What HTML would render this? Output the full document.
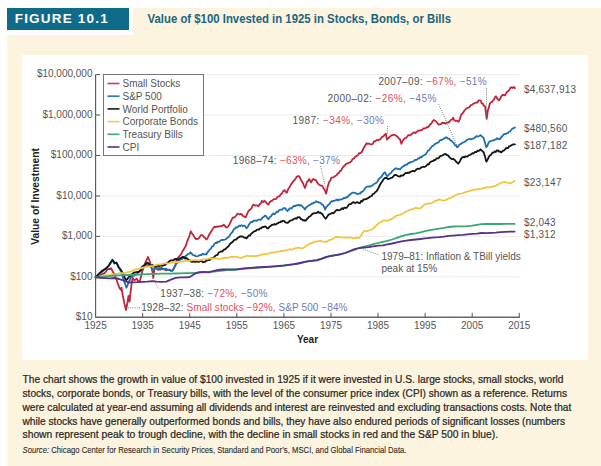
<!DOCTYPE html>
<html><head><meta charset="utf-8"><title>Figure 10.1</title>
<style>
html,body{margin:0;padding:0;background:#fff;}
body{width:601px;height:466px;position:relative;overflow:hidden;}
.bg{position:absolute;background:#fdf4df;}
</style></head><body>
<div class="bg" style="left:7px;top:35px;width:594px;height:431px"></div>
<div class="bg" style="left:133px;top:8px;width:468px;height:27px"></div>
<div style="position:absolute;left:7px;top:7.5px;width:121.5px;height:22.5px;background:#0f6b8a"></div>
<div style="position:absolute;left:21.5px;top:54.5px;width:566px;height:305px;background:#fff"></div>
<svg width="601" height="466" viewBox="0 0 601 466" style="position:absolute;left:0;top:0">
<g stroke="#ebebeb" stroke-width="1"><line x1="96" x2="519.5" y1="276.85" y2="276.85"/><line x1="96" x2="519.5" y1="236.40" y2="236.40"/><line x1="96" x2="519.5" y1="195.95" y2="195.95"/><line x1="96" x2="519.5" y1="155.50" y2="155.50"/><line x1="96" x2="519.5" y1="115.05" y2="115.05"/><line x1="96" x2="519.5" y1="74.60" y2="74.60"/></g>
<g fill="none" stroke-linejoin="round" stroke-linecap="round"><path d="M95.6,276.9 97.1,276.5 98.3,275.6 99.4,275.6 100.6,275.1 101.8,274.2 103.0,273.9 104.3,273.2 105.5,272.3 106.7,270.4 107.8,269.1 109.0,268.8 110.0,269.1 111.0,268.1 112.0,269.8 113.1,272.3 114.2,273.9 115.2,276.5 116.6,280.0 118.0,284.2 119.4,287.7 120.8,289.8 121.5,287.7 122.9,296.0 124.3,303.0 126.0,310.0 127.4,303.0 128.5,296.0 129.6,301.6 130.6,291.9 131.6,283.5 132.7,277.9 133.8,279.8 134.8,280.0 135.9,279.2 136.9,278.6 137.9,281.0 139.0,282.1 140.3,279.3 141.4,275.1 142.4,270.9 143.4,268.4 144.5,265.3 145.6,261.9 146.6,259.8 148.0,257.0 149.7,261.2 150.8,266.0 152.3,270.5 153.3,277.8 154.5,268.0 155.7,268.6 156.8,268.8 157.9,269.8 159.0,269.5 160.0,269.3 161.0,269.5 162.0,268.8 163.0,269.4 164.0,268.7 165.0,269.8 166.0,270.4 167.0,270.2 168.0,270.2 169.0,270.0 170.0,269.8 171.0,270.8 172.2,270.8 173.3,269.5 174.4,267.2 175.5,265.0 176.7,259.5 178.0,257.5 179.0,256.8 180.0,255.4 181.2,254.1 182.3,251.5 183.4,250.1 184.5,247.9 185.7,246.0 186.8,242.5 187.9,239.6 189.0,237.0 190.8,231.3 191.8,233.3 192.8,234.3 193.9,236.1 195.0,238.0 196.2,239.2 197.3,238.8 198.4,238.7 199.5,237.3 200.7,235.4 201.8,235.0 202.9,235.5 204.0,237.3 205.2,237.9 206.3,239.5 207.4,238.5 208.6,235.8 209.7,233.8 210.8,232.0 212.2,229.9 213.7,227.4 214.8,226.9 215.9,227.1 216.9,226.7 218.0,226.4 219.1,226.5 220.2,226.2 221.4,225.8 222.5,225.9 223.7,224.7 224.9,225.9 226.1,227.3 227.3,227.4 228.5,226.0 229.6,224.2 230.8,221.6 231.9,219.2 233.0,217.5 234.1,217.6 235.2,216.7 236.3,215.5 237.4,213.7 238.6,214.0 239.7,214.5 240.8,213.9 242.0,214.6 243.2,216.1 244.4,216.6 245.6,217.4 246.8,214.6 248.1,211.7 249.3,210.1 250.4,209.4 251.6,208.2 252.7,205.2 253.8,204.6 254.9,205.6 256.1,205.3 257.2,205.3 258.4,206.4 259.6,204.2 260.8,203.3 262.0,201.0 263.2,202.0 264.5,200.8 265.7,201.9 267.0,203.5 268.4,204.6 269.8,202.0 271.2,201.0 272.2,200.8 273.2,199.5 274.2,199.2 275.2,199.2 276.3,198.7 277.3,197.1 278.4,196.4 279.6,196.4 280.7,194.2 281.9,193.6 283.2,191.1 284.6,190.1 285.6,191.7 286.7,192.9 288.1,189.3 289.5,187.3 290.7,184.9 291.8,183.4 293.0,181.7 294.4,180.2 295.8,178.3 296.9,176.6 297.9,176.2 298.9,176.1 300.0,177.6 301.1,180.3 302.1,181.7 303.5,184.5 304.9,188.0 305.9,185.7 307.0,181.7 308.1,181.1 309.1,179.0 310.1,180.5 311.1,182.4 312.1,180.6 313.2,179.0 314.6,179.7 316.0,180.3 317.1,182.3 318.1,183.8 319.1,184.7 320.2,185.2 321.2,185.7 322.3,185.9 323.4,187.9 324.4,189.4 326.2,193.6 327.9,185.9 329.3,181.7 330.4,180.4 331.4,177.6 332.6,177.4 333.9,177.1 335.1,176.0 336.3,175.5 337.5,173.7 338.7,173.2 339.9,171.2 341.1,170.7 342.3,168.2 343.5,166.5 344.8,165.6 346.1,163.7 347.4,163.6 348.7,162.8 349.9,162.4 351.2,161.6 352.5,159.1 353.8,158.6 355.1,156.8 356.6,156.1 358.0,154.9 359.3,153.1 360.5,153.2 361.8,152.0 363.2,149.0 364.7,146.2 366.6,143.3 367.8,143.9 369.1,143.5 370.3,144.4 371.5,144.3 372.8,143.8 374.0,141.5 375.3,141.4 376.6,140.0 377.9,140.5 379.2,139.5 380.5,139.4 381.7,137.1 383.0,136.6 384.4,135.1 385.9,133.7 386.9,139.5 388.4,138.2 389.8,136.6 391.1,135.6 392.4,135.1 393.7,134.7 394.9,135.0 396.1,135.7 397.3,136.5 398.6,138.1 400.0,139.3 401.3,143.8 402.5,141.2 403.7,139.3 404.9,138.1 406.1,137.9 407.3,136.5 408.4,135.0 409.6,135.3 410.8,134.9 411.9,133.8 413.0,133.0 414.2,132.4 415.4,133.0 416.5,132.0 417.6,131.1 418.8,130.5 419.9,130.5 421.0,130.1 422.1,130.0 423.3,128.5 424.5,128.4 425.6,128.3 426.8,127.1 428.1,127.1 429.3,125.6 430.4,124.1 431.6,123.5 432.7,120.9 433.8,120.1 435.6,121.0 437.0,122.5 438.4,124.6 439.6,124.3 440.8,124.1 442.0,122.8 443.2,123.0 444.5,122.9 445.7,123.7 446.9,122.4 448.1,122.6 449.3,121.9 450.6,120.0 451.8,119.7 453.1,117.8 454.1,119.9 455.1,120.8 456.3,120.6 457.4,121.1 458.6,121.8 459.9,118.8 461.2,114.7 462.2,113.6 463.3,112.5 464.3,110.6 465.3,109.6 466.4,108.4 467.4,108.0 468.4,107.6 469.4,107.4 470.4,105.6 471.4,105.0 472.4,104.5 473.4,103.8 474.4,103.3 475.5,102.8 476.5,102.4 477.5,102.5 478.6,100.4 479.6,100.4 480.6,100.5 481.7,103.3 482.7,103.5 483.9,105.7 485.1,106.5 486.7,118.8 487.8,110.6 488.8,107.9 489.8,103.5 490.8,102.3 491.9,102.2 492.9,100.4 493.9,99.8 494.9,97.2 495.9,96.3 496.9,98.1 498.0,99.6 499.0,100.4 500.0,99.0 501.0,97.0 502.0,95.3 503.0,94.9 504.1,95.0 505.1,95.3 506.1,93.4 507.2,91.8 508.2,91.2 509.2,90.0 510.2,88.1 511.2,87.1 512.4,88.0 513.7,87.0 514.9,88.2" stroke="#c0253c" stroke-width="1.8"/><path d="M95.6,276.9 97.1,275.8 98.1,275.6 99.2,274.7 100.2,272.5 101.3,271.6 102.4,271.9 103.4,270.5 104.5,269.9 105.6,268.8 106.8,267.2 107.9,266.7 109.0,265.5 110.1,264.0 111.3,262.3 112.4,260.5 113.5,261.5 114.5,263.5 115.5,263.1 116.5,263.0 117.6,265.0 118.7,267.4 120.1,270.0 121.5,272.0 122.9,277.9 124.8,283.0 126.4,287.7 127.5,285.6 128.5,282.1 129.9,280.0 131.3,276.5 132.4,276.3 133.5,276.0 134.6,275.4 135.8,274.6 136.9,274.4 137.9,272.8 138.9,271.9 140.0,271.7 141.0,270.9 142.2,268.9 143.5,267.5 144.5,266.2 145.6,265.8 146.6,264.0 148.5,265.5 149.7,265.4 150.8,265.3 152.5,270.5 153.7,269.8 154.8,268.4 156.0,268.0 157.0,267.5 158.0,268.1 159.0,268.5 160.0,267.8 161.0,268.2 162.0,268.0 163.0,269.1 164.0,268.9 165.0,269.0 166.0,268.7 167.0,269.9 168.0,269.5 169.1,270.1 170.2,270.3 171.4,270.7 172.5,270.3 173.5,268.9 174.5,267.2 175.5,265.0 176.5,263.3 177.5,262.7 178.5,260.5 179.6,260.6 180.8,258.9 181.9,259.2 183.0,258.3 184.1,257.7 185.2,256.3 186.4,255.5 187.5,254.5 188.5,253.8 189.5,253.7 190.5,252.3 191.5,253.3 192.5,254.8 193.5,255.3 194.6,255.3 195.8,256.2 196.9,256.4 198.0,256.0 199.2,255.4 200.3,255.0 201.4,255.0 202.6,253.8 203.8,254.4 205.1,254.2 206.3,254.5 207.5,252.3 208.8,250.8 210.0,249.3 211.1,248.3 212.2,246.3 213.3,246.1 214.4,243.9 215.5,243.0 216.6,243.1 217.7,241.6 218.8,242.0 219.9,241.1 221.0,240.2 222.1,240.0 223.2,239.8 224.4,239.8 225.5,239.3 226.7,238.5 228.0,237.2 229.2,236.6 230.3,234.3 231.4,233.0 232.6,231.8 233.7,229.3 234.8,228.7 235.9,227.2 237.0,227.6 238.1,226.7 239.2,225.6 240.3,226.2 241.5,225.1 242.7,226.0 243.8,225.6 245.2,226.3 246.5,228.3 247.7,227.0 248.8,224.8 249.9,223.2 251.1,222.0 252.2,222.2 253.3,220.7 254.5,220.9 255.6,220.5 256.8,220.9 257.9,219.8 259.1,219.5 260.2,219.8 261.4,219.3 262.5,217.6 263.6,217.0 264.8,215.6 266.0,216.1 267.2,217.8 268.4,219.2 269.6,217.2 270.9,216.4 272.1,214.6 273.3,213.5 274.4,214.3 275.6,213.1 276.7,211.7 277.8,212.0 279.0,210.3 280.1,209.9 281.2,209.6 282.2,209.7 283.2,208.4 284.3,208.1 285.3,208.2 286.4,209.9 287.4,211.0 288.6,209.9 289.7,208.4 290.9,208.2 291.9,208.4 293.0,206.6 294.1,205.9 295.1,206.1 296.3,205.4 297.4,205.4 298.6,204.8 299.8,205.6 300.9,205.1 302.1,206.1 303.5,207.6 304.9,209.6 306.1,207.5 307.2,206.8 308.4,205.5 309.5,205.2 310.7,204.5 311.8,203.4 312.9,203.5 313.9,202.7 314.9,202.4 316.0,201.3 317.2,202.1 318.3,202.2 319.5,202.7 320.7,203.0 321.8,204.3 323.0,204.8 324.1,206.9 325.1,209.6 326.1,207.3 327.2,206.1 328.4,204.7 329.5,203.9 330.7,202.0 331.7,201.1 332.7,201.4 333.8,200.8 334.8,200.6 335.8,200.2 337.0,199.5 338.1,200.5 339.3,199.3 340.4,199.6 341.6,199.3 342.8,198.8 343.9,197.8 345.1,198.2 346.2,197.2 347.4,197.3 348.5,195.7 349.7,194.7 350.8,193.9 352.0,192.9 353.1,192.5 354.3,192.9 355.4,192.9 356.6,193.8 357.7,194.0 358.9,193.5 360.2,193.6 361.5,191.8 362.8,191.5 364.1,189.8 365.3,187.9 366.6,186.7 367.8,186.6 369.1,186.4 370.3,186.5 371.5,185.8 372.7,185.4 373.9,184.0 375.1,183.5 376.3,182.9 377.5,181.5 378.7,179.3 379.9,177.9 381.1,177.1 382.4,175.4 383.7,173.3 385.0,172.3 386.9,176.1 388.2,175.5 389.5,173.8 390.8,173.2 392.0,171.4 393.1,170.4 394.3,169.3 395.5,168.5 396.6,168.3 397.8,169.0 398.9,169.1 400.0,169.4 401.4,167.7 402.8,166.6 403.9,166.1 405.0,164.7 406.1,165.0 407.2,164.4 408.3,163.0 409.4,163.0 410.5,162.2 411.5,161.9 412.6,161.7 413.7,161.2 414.8,160.0 415.9,160.0 417.0,159.6 418.1,158.5 419.2,158.4 420.3,157.1 421.4,157.4 422.5,156.0 423.6,155.5 424.7,154.8 425.8,154.2 426.9,152.4 428.0,150.6 429.1,150.4 430.2,148.4 431.3,147.3 432.4,145.8 433.4,145.9 434.5,144.1 435.6,143.8 436.7,142.8 437.8,142.9 438.9,141.9 440.0,140.2 441.1,140.2 442.2,139.6 443.3,138.9 444.4,138.5 445.5,137.5 446.6,137.4 447.8,138.5 449.1,138.6 450.3,140.2 451.6,140.9 452.8,142.1 454.1,143.3 455.1,145.3 456.1,145.3 457.1,147.3 458.1,146.7 459.2,144.8 460.2,144.3 461.2,143.8 462.2,142.9 463.3,142.4 464.3,142.2 465.3,141.2 466.3,140.6 467.3,139.8 468.4,139.4 469.4,139.0 470.4,139.2 471.4,139.3 472.4,138.6 473.5,138.6 474.5,137.8 475.5,137.1 476.5,136.0 477.5,136.5 478.6,136.3 479.6,135.8 480.6,135.1 481.6,136.1 482.7,137.0 483.7,138.2 485.0,142.7 486.3,147.3 487.6,145.2 488.8,142.2 489.8,141.4 490.9,141.2 491.9,140.7 492.9,140.2 493.9,140.4 494.9,139.7 495.9,139.3 496.9,138.2 497.9,139.0 499.0,138.6 500.0,139.2 501.0,137.4 502.1,136.4 503.1,135.1 504.1,134.2 505.1,134.0 506.1,133.9 507.1,133.1 508.1,133.0 509.1,131.7 510.2,131.3 511.2,130.0 512.4,128.6 513.7,128.1 514.9,127.5" stroke="#1d6fb0" stroke-width="1.8"/><path d="M95.6,276.9 97.1,275.8 98.1,274.5 99.2,273.3 100.2,272.8 101.3,271.5 102.4,270.5 103.4,270.2 104.5,269.1 105.6,268.9 106.8,267.7 107.9,266.7 109.0,265.3 110.1,263.0 111.3,261.7 112.4,259.8 113.5,261.2 114.5,263.3 116.3,262.5 117.5,264.5 118.7,267.4 120.1,268.6 121.5,270.9 122.9,273.3 124.3,276.5 125.3,278.9 126.4,280.0 127.5,279.1 128.5,277.2 129.9,276.3 131.3,274.4 132.4,274.3 133.4,272.9 134.4,272.5 135.5,272.3 136.5,272.1 137.6,271.9 138.6,271.8 139.6,270.9 140.8,269.8 141.9,267.0 143.1,266.0 144.2,265.3 145.2,264.6 146.2,263.5 147.3,262.6 148.7,263.5 150.1,265.3 151.3,265.4 152.6,265.0 153.8,266.5 155.0,266.0 156.0,266.4 157.0,265.9 158.0,265.4 159.0,266.2 160.0,265.5 161.0,265.5 162.0,265.9 163.0,265.7 164.0,265.1 165.0,265.0 166.1,263.9 167.2,263.3 168.4,262.1 169.5,261.3 170.6,260.4 171.8,260.3 172.9,260.6 174.0,259.8 175.1,259.0 176.2,258.9 177.4,259.6 178.5,259.3 179.6,258.3 180.8,258.1 181.9,257.4 183.0,256.8 184.1,257.1 185.2,258.6 186.4,258.0 187.5,259.0 188.6,259.6 189.8,260.1 190.9,261.4 192.0,262.0 193.0,261.5 194.0,261.6 195.0,262.0 196.0,261.3 197.0,261.5 198.0,261.3 199.0,262.0 200.0,260.9 201.0,261.0 202.0,261.4 203.0,262.3 204.0,262.0 205.0,261.8 206.0,260.9 207.0,260.6 208.0,260.0 209.0,260.1 210.0,259.8 211.1,258.3 212.2,258.4 213.3,257.8 214.4,257.0 215.5,255.5 216.6,255.1 217.7,254.6 218.8,252.4 219.9,252.0 221.0,251.5 222.1,251.5 223.2,250.5 224.2,249.3 225.3,249.4 226.4,248.0 227.5,247.1 228.6,246.3 229.7,244.4 230.8,243.1 231.9,242.5 233.0,241.5 234.1,240.2 235.2,239.6 236.3,239.6 237.4,238.0 238.5,237.5 239.6,236.7 240.7,236.5 241.8,236.4 242.9,236.6 244.1,237.6 245.3,237.6 246.5,238.4 247.7,236.9 248.8,235.5 249.9,235.7 251.1,233.8 252.2,233.0 253.3,232.0 254.5,231.1 255.6,231.1 256.7,229.9 257.8,229.5 258.9,229.7 260.0,228.3 261.1,228.3 262.3,227.0 263.6,227.1 264.8,226.5 266.0,226.7 267.2,228.4 268.4,228.3 269.6,226.5 270.9,225.9 272.1,224.7 273.3,224.8 274.6,224.0 275.8,224.6 277.0,223.6 278.0,223.2 279.0,222.4 280.0,222.3 281.0,221.3 282.0,221.5 283.0,220.8 284.0,220.8 285.1,222.1 286.3,222.7 287.4,222.9 288.6,222.2 289.9,220.8 291.1,220.4 292.3,220.1 293.4,219.2 294.4,218.7 295.5,218.3 296.5,218.8 297.6,217.2 298.6,217.3 299.7,217.2 300.7,219.1 301.8,219.1 302.8,220.4 303.8,220.1 304.9,220.8 305.9,220.4 307.0,218.9 308.1,218.1 309.1,216.6 310.2,216.3 311.3,215.2 312.4,213.9 313.5,213.4 314.6,213.1 315.8,213.2 316.9,212.8 318.1,211.7 319.2,212.9 320.2,212.5 321.2,213.5 322.3,213.8 323.4,215.9 324.4,217.3 325.5,218.7 326.5,217.8 327.6,215.9 328.6,214.5 329.7,214.3 330.7,213.8 331.8,212.8 332.9,213.3 333.9,212.9 335.0,211.7 336.4,210.2 337.7,209.9 338.8,210.3 339.9,210.0 341.0,209.3 342.1,208.1 343.2,209.1 344.3,207.6 345.4,207.9 346.5,207.8 347.6,206.5 348.7,204.8 349.8,204.1 350.9,204.0 352.0,203.0 353.1,202.1 354.3,202.7 355.4,203.1 356.6,202.3 357.7,202.2 358.9,203.1 360.1,203.0 361.2,200.8 362.4,201.4 363.5,199.5 364.7,199.3 365.9,199.2 367.0,198.6 368.2,198.1 369.3,197.1 370.5,196.4 371.7,196.0 372.8,194.0 374.0,193.7 375.1,192.2 376.3,191.5 377.5,189.9 378.7,187.6 379.9,185.0 381.1,182.9 382.4,181.3 383.7,178.9 385.0,178.0 386.4,177.8 387.9,179.0 388.9,178.9 390.0,178.5 391.1,177.8 392.2,177.6 393.3,176.5 394.4,175.1 395.5,174.9 396.6,175.1 397.8,176.2 398.9,176.3 400.0,176.7 401.1,175.3 402.3,175.8 403.5,175.1 404.6,173.9 405.7,172.9 406.8,173.2 407.9,172.6 409.0,172.9 410.1,172.1 411.2,171.5 412.3,171.0 413.4,171.0 414.5,171.4 415.6,170.3 416.7,169.2 417.8,168.6 418.8,168.9 419.9,168.7 421.0,167.6 422.1,167.2 423.2,166.7 424.3,167.0 425.4,166.5 426.5,165.7 427.6,164.2 428.7,164.5 429.8,162.5 430.9,161.8 432.0,161.2 433.1,161.1 434.2,160.0 435.3,160.0 436.4,158.5 437.5,158.4 438.6,158.3 439.8,156.6 440.9,155.8 442.0,155.7 443.4,154.8 444.8,153.9 446.0,154.3 447.2,155.2 448.4,155.7 449.6,157.5 450.9,158.4 452.1,159.3 453.1,158.7 454.1,159.6 455.1,160.3 456.1,161.7 457.2,162.7 458.2,163.7 459.2,162.5 460.2,160.6 461.2,158.5 462.2,157.6 463.2,156.9 464.3,157.4 465.3,156.3 466.3,156.6 467.4,156.6 468.4,155.5 469.4,155.2 470.4,154.7 471.4,154.1 472.5,153.2 473.5,153.5 474.5,152.4 475.5,151.9 476.5,152.0 477.6,150.6 478.6,151.0 479.6,150.3 480.6,149.4 481.6,150.6 482.7,151.3 483.7,152.4 485.0,156.5 486.3,161.6 487.5,160.0 488.6,157.3 489.8,155.5 490.8,155.0 491.9,153.4 492.9,152.5 493.9,152.4 494.9,151.4 495.9,151.9 497.0,150.4 498.0,150.4 499.0,151.7 500.0,151.5 501.0,152.4 502.0,151.8 503.1,150.7 504.1,150.3 505.1,149.4 506.1,148.1 507.1,147.9 508.1,148.0 509.2,146.2 510.2,146.2 511.2,145.3 512.4,144.7 513.7,144.3 514.9,144.3" stroke="#141414" stroke-width="1.8"/><path d="M95.6,277.5 97.2,277.2 98.7,276.9 100.3,276.3 101.9,276.1 103.4,275.8 105.0,275.1 106.6,275.2 108.2,275.3 109.7,274.9 111.3,274.4 112.9,274.5 114.4,274.3 116.0,274.2 117.6,273.5 119.1,273.0 120.7,273.4 122.3,273.0 123.8,273.4 125.4,272.9 127.0,272.3 128.6,272.0 130.1,271.6 131.7,271.1 133.3,270.6 134.8,269.7 136.4,269.3 138.0,268.9 139.5,268.3 141.1,268.3 142.7,267.6 144.2,267.5 145.8,266.8 147.4,266.7 149.0,266.7 150.5,266.1 152.1,266.2 153.7,265.9 155.2,265.1 156.8,265.0 158.4,264.3 159.9,264.6 161.5,264.1 163.1,263.6 164.6,263.4 166.2,263.3 167.8,263.4 169.4,263.1 170.9,262.6 172.5,262.3 174.1,262.6 175.6,262.1 177.2,262.0 178.8,262.0 180.3,261.7 181.9,261.3 183.5,261.6 185.0,261.0 186.6,260.9 188.2,260.9 189.8,260.3 191.3,260.5 192.9,260.0 194.5,260.1 196.0,260.1 197.6,260.1 199.2,260.5 200.7,259.9 202.3,259.6 203.9,259.6 205.4,259.2 207.0,259.1 208.6,258.7 210.1,258.3 211.7,258.6 213.3,258.3 214.9,258.4 216.4,258.5 218.0,258.8 219.6,258.9 221.1,258.5 222.7,258.3 224.3,258.0 225.8,258.0 227.4,257.9 229.0,257.7 230.5,256.9 232.1,256.9 233.7,257.2 235.3,256.5 236.8,256.9 238.4,257.4 240.0,257.8 241.5,257.9 243.1,256.9 244.7,256.8 246.2,255.9 247.8,255.9 249.4,256.1 250.9,256.1 252.5,255.8 254.1,256.0 255.7,256.4 257.2,255.6 258.8,255.7 260.4,254.8 261.9,254.4 263.5,254.5 265.1,254.1 266.6,254.1 268.2,253.7 269.8,253.0 271.3,252.7 272.9,252.6 274.5,252.5 276.1,252.1 277.6,251.9 279.2,251.4 280.8,250.8 282.3,251.0 283.9,250.6 285.5,250.5 287.0,250.2 288.6,249.6 290.2,249.1 291.7,249.6 293.3,249.0 294.9,248.3 296.5,248.0 298.0,247.6 299.6,247.9 301.2,248.4 302.7,248.3 304.3,247.1 305.9,246.4 307.4,245.0 309.0,244.3 310.6,243.4 312.1,242.8 313.7,242.2 315.3,241.7 316.9,241.5 318.4,241.1 320.0,241.0 321.6,241.1 323.1,241.5 324.7,242.0 326.3,241.9 327.8,240.9 329.4,240.1 331.0,239.6 332.5,239.1 334.1,237.9 335.7,237.0 337.3,237.0 338.8,237.0 340.4,237.3 342.0,237.4 343.5,237.7 345.1,237.6 346.7,237.6 348.2,237.6 349.8,237.7 351.4,237.5 352.9,238.3 354.5,238.1 356.1,237.7 357.7,237.9 359.2,237.8 360.8,235.9 362.4,233.2 363.9,231.2 365.5,231.2 367.1,231.1 368.6,230.6 370.2,230.0 371.8,229.5 373.3,228.6 374.9,226.8 376.5,225.4 378.0,223.9 379.6,222.6 381.2,222.0 382.8,220.7 384.3,220.5 385.9,220.7 387.5,220.7 389.0,220.3 390.6,219.4 392.2,218.4 393.7,217.8 395.3,216.4 396.9,215.5 398.4,215.1 400.0,214.9 401.6,214.4 403.2,213.4 404.7,212.3 406.3,211.5 407.9,210.8 409.4,210.0 411.0,209.7 412.6,209.0 414.1,208.7 415.7,207.7 417.3,208.3 418.8,208.3 420.4,208.4 422.0,207.0 423.6,205.4 425.1,204.1 426.7,203.7 428.3,203.7 429.8,203.7 431.4,203.2 433.0,202.4 434.5,201.4 436.1,200.6 437.7,200.2 439.2,199.3 440.8,199.9 442.4,200.3 444.0,200.6 445.5,200.1 447.1,199.4 448.7,198.5 450.2,197.8 451.8,197.3 453.4,196.5 454.9,195.5 456.5,194.8 458.1,194.0 459.6,193.9 461.2,193.5 462.8,193.0 464.4,192.4 465.9,192.3 467.5,191.4 469.1,191.1 470.6,190.6 472.2,190.1 473.8,189.5 475.3,189.7 476.9,189.4 478.5,189.0 480.0,189.1 481.6,188.8 483.2,188.2 484.8,188.0 486.3,187.3 487.9,187.3 489.5,187.3 491.0,187.0 492.6,186.5 494.2,186.2 495.7,185.6 497.3,184.9 498.9,184.1 500.4,183.0 502.0,182.4 503.6,182.4 505.2,181.7 506.7,182.5 508.3,182.9 509.9,183.3 511.4,182.8 513.0,181.9 514.6,180.7" stroke="#f2c53e" stroke-width="1.8"/><path d="M95.6,277.4 100.3,277.0 105.0,276.6 109.7,276.1 114.4,275.5 119.1,275.3 123.8,275.2 128.6,275.0 133.3,274.8 138.0,274.6 142.7,274.4 147.4,274.2 152.1,273.9 156.8,273.8 161.5,273.7 166.2,273.6 170.9,273.6 175.6,273.5 180.3,273.4 185.0,273.2 189.8,273.1 194.5,272.9 199.2,272.6 203.9,272.3 208.6,271.9 213.3,271.5 218.0,271.1 222.7,270.6 227.4,270.2 232.1,270.0 236.8,269.6 241.5,269.2 246.2,268.6 250.9,268.4 255.7,267.9 260.4,267.5 265.1,267.2 269.8,266.8 274.5,266.4 279.2,265.9 283.9,265.4 288.6,264.8 293.3,264.2 298.0,263.5 302.7,262.5 307.4,261.4 312.1,260.6 316.9,259.9 321.6,258.7 326.3,257.2 331.0,256.0 335.7,255.1 340.4,254.2 345.1,253.0 349.8,251.5 354.5,250.0 359.2,248.0 363.9,246.7 368.6,245.6 373.3,244.2 378.0,243.0 382.8,241.8 387.5,240.8 392.2,239.5 396.9,237.8 401.6,236.1 406.3,234.8 411.0,234.0 415.7,233.3 420.4,232.3 425.1,231.2 429.8,230.2 434.5,229.3 439.2,228.6 444.0,227.9 448.7,227.0 453.4,226.5 458.1,226.3 462.8,226.3 467.5,226.2 472.2,225.7 476.9,224.9 481.6,224.2 486.3,224.0 491.0,224.0 495.7,224.0 500.4,224.0 505.2,223.9 509.9,223.9 514.6,223.9" stroke="#3aa874" stroke-width="1.8"/><path d="M95.6,277.4 100.3,277.8 105.0,278.1 109.7,278.3 114.4,278.0 119.1,279.0 123.8,280.7 128.6,282.5 133.3,282.4 138.0,282.2 142.7,281.8 147.4,281.7 152.1,281.2 156.8,281.7 161.5,281.8 166.2,281.6 170.9,279.7 175.6,277.9 180.3,277.4 185.0,277.3 189.8,277.0 194.5,273.9 199.2,272.2 203.9,271.8 208.6,272.3 213.3,271.2 218.0,269.9 222.7,269.5 227.4,269.3 232.1,269.4 236.8,269.3 241.5,268.7 246.2,268.1 250.9,267.8 255.7,267.5 260.4,267.2 265.1,267.0 269.8,266.7 274.5,266.3 279.2,266.0 283.9,265.6 288.6,264.9 293.3,264.4 298.0,263.5 302.7,262.4 307.4,261.4 312.1,260.9 316.9,260.4 321.6,258.9 326.3,256.9 331.0,255.8 335.7,255.2 340.4,254.3 345.1,253.0 349.8,251.0 354.5,249.2 359.2,248.0 363.9,247.6 368.6,247.1 373.3,246.4 378.0,245.6 382.8,245.3 387.5,244.4 392.2,243.5 396.9,242.4 401.6,241.3 406.3,240.6 411.0,240.0 415.7,239.5 420.4,239.0 425.1,238.4 429.8,237.8 434.5,237.4 439.2,237.1 444.0,236.6 448.7,235.9 453.4,235.6 458.1,235.2 462.8,234.9 467.5,234.4 472.2,233.9 476.9,233.6 481.6,233.0 486.3,233.1 491.0,232.8 495.7,232.6 500.4,232.1 505.2,231.9 509.9,231.7 514.6,231.6" stroke="#5a2f8e" stroke-width="1.8"/></g>
<path d="M95.6,74.4 V317.3" stroke="#555" stroke-width="1.1" fill="none"/>
<path d="M95.1,317.3 H519.8" stroke="#666" stroke-width="1.5" fill="none"/>
<path d="M95.6,276.85h4.4M95.6,236.40h4.4M95.6,195.95h4.4M95.6,155.50h4.4M95.6,115.05h4.4M95.6,74.60h4.4M142.67,317.3v-4.5M189.75,317.3v-4.5M236.82,317.3v-4.5M283.90,317.3v-4.5M330.97,317.3v-4.5M378.05,317.3v-4.5M425.12,317.3v-4.5M472.20,317.3v-4.5M519.27,317.3v-4.5" stroke="#555" stroke-width="1" fill="none"/>
<g font-family="Liberation Sans, Arial, Helvetica, sans-serif" font-size="10" fill="#555" text-anchor="end"><text x="92.5" y="320.1">$10</text><text x="92.5" y="279.7">$100</text><text x="92.5" y="239.2">$1,000</text><text x="92.5" y="198.8">$10,000</text><text x="92.5" y="158.3">$100,000</text><text x="92.5" y="117.9">$1,000,000</text><text x="92.5" y="77.4">$10,000,000</text></g>
<g font-family="Liberation Sans, Arial, Helvetica, sans-serif" font-size="10" fill="#555" text-anchor="middle"><text x="95.6" y="328.5">1925</text><text x="142.7" y="328.5">1935</text><text x="189.8" y="328.5">1945</text><text x="236.8" y="328.5">1955</text><text x="283.9" y="328.5">1965</text><text x="331.0" y="328.5">1975</text><text x="378.0" y="328.5">1985</text><text x="425.1" y="328.5">1995</text><text x="472.2" y="328.5">2005</text><text x="519.3" y="328.5">2015</text></g>
<text x="307.5" y="343" font-family="Liberation Sans, Arial, Helvetica, sans-serif" font-size="10" font-weight="bold" fill="#222" text-anchor="middle">Year</text>
<text transform="translate(39,196.5) rotate(-90)" font-family="Liberation Sans, Arial, Helvetica, sans-serif" font-size="10.3" font-weight="bold" fill="#222" text-anchor="middle">Value of Investment</text>
<rect x="103.5" y="74.5" width="100" height="81" fill="#fff" stroke="#777" stroke-width="1"/>
<g font-family="Liberation Sans, Arial, Helvetica, sans-serif" font-size="10" fill="#555"><line x1="107.5" x2="119.5" y1="83.5" y2="83.5" stroke="#c44a58" stroke-width="1.7"/><text x="122.5" y="87.2">Small Stocks</text><line x1="107.5" x2="119.5" y1="96.2" y2="96.2" stroke="#2a7ab3" stroke-width="1.7"/><text x="122.5" y="99.9">S&amp;P 500</text><line x1="107.5" x2="119.5" y1="108.9" y2="108.9" stroke="#262626" stroke-width="1.7"/><text x="122.5" y="112.6">World Portfolio</text><line x1="107.5" x2="119.5" y1="121.6" y2="121.6" stroke="#f0cc60" stroke-width="1.7"/><text x="122.5" y="125.3">Corporate Bonds</text><line x1="107.5" x2="119.5" y1="134.3" y2="134.3" stroke="#40aa8c" stroke-width="1.7"/><text x="122.5" y="138.0">Treasury Bills</text><line x1="107.5" x2="119.5" y1="147.0" y2="147.0" stroke="#5a3e86" stroke-width="1.7"/><text x="122.5" y="150.7">CPI</text></g>
<g font-family="Liberation Sans, Arial, Helvetica, sans-serif" font-size="10">
<text x="378.4" y="84.8" textLength="108.3" lengthAdjust="spacing"><tspan fill="#555">2007–09: </tspan><tspan fill="#de4e5a">−67%, </tspan><tspan fill="#6a7bbd">−51%</tspan></text>
<text x="327.6" y="101.8" textLength="108.8" lengthAdjust="spacing"><tspan fill="#555">2000–02: </tspan><tspan fill="#de4e5a">−26%, </tspan><tspan fill="#6a7bbd">−45%</tspan></text>
<text x="292.6" y="124.3" textLength="91.4" lengthAdjust="spacing"><tspan fill="#555">1987: </tspan><tspan fill="#de4e5a">−34%, </tspan><tspan fill="#6a7bbd">−30%</tspan></text>
<text x="232.8" y="163.8" textLength="107" lengthAdjust="spacing"><tspan fill="#555">1968–74: </tspan><tspan fill="#de4e5a">−63%, </tspan><tspan fill="#6a7bbd">−37%</tspan></text>
<text x="160.3" y="297.3" textLength="107.1" lengthAdjust="spacing"><tspan fill="#555">1937–38: </tspan><tspan fill="#de4e5a">−72%, </tspan><tspan fill="#6a7bbd">−50%</tspan></text>
<text x="141.2" y="311.3" textLength="206.3" lengthAdjust="spacing"><tspan fill="#555">1928–32: </tspan><tspan fill="#de4e5a">Small stocks −92%, </tspan><tspan fill="#6a7bbd">S&amp;P 500 −84%</tspan></text>
<text x="381.5" y="260" fill="#555">1979–81: Inflation &amp; TBill yields</text>
<text x="381.5" y="271.8" fill="#555">peak at 15%</text>
</g>
<g stroke="#666" stroke-width="0.8" stroke-dasharray="1,1.2" fill="none">
<path d="M486.5,88 V118"/>
<path d="M438.5,104 L457.5,146.5"/>
<path d="M387.5,126 V134"/>
<path d="M320.5,166 L326.5,191.5"/>
<path d="M152.5,278 L158.5,288.5"/>
<path d="M128,307.8 H140"/>
<path d="M361,248 L379,255"/>
</g>
<g font-family="Liberation Sans, Arial, Helvetica, sans-serif" font-size="10" letter-spacing="0.22" fill="#555"><text x="524" y="92.6">$4,637,913</text><text x="524" y="131.7">$480,560</text><text x="524" y="149.3">$187,182</text><text x="524" y="185.5">$23,147</text><text x="524" y="225.5">$2,043</text><text x="524" y="238.2">$1,312</text></g>
</svg>
<svg width="601" height="466" style="position:absolute;left:0;top:0">
<g font-family="Liberation Sans, Arial, Helvetica, sans-serif" font-size="11" fill="#2a2723" stroke="#2a2723" stroke-width="0.24"><text x="22.5" y="383.4" textLength="541.0" lengthAdjust="spacingAndGlyphs">The chart shows the growth in value of &#36;100 invested in 1925 if it were invested in U.S. large stocks, small stocks, world</text><text x="22.5" y="397.1" textLength="544.5" lengthAdjust="spacingAndGlyphs">stocks, corporate bonds, or Treasury bills, with the level of the consumer price index (CPI) shown as a reference. Returns</text><text x="22.5" y="410.8" textLength="548.8" lengthAdjust="spacingAndGlyphs">were calculated at year-end assuming all dividends and interest are reinvested and excluding transactions costs. Note that</text><text x="22.5" y="424.5" textLength="542.6" lengthAdjust="spacingAndGlyphs">while stocks have generally outperformed bonds and bills, they have also endured periods of significant losses (numbers</text><text x="22.5" y="438.2" textLength="475.5" lengthAdjust="spacingAndGlyphs">shown represent peak to trough decline, with the decline in small stocks in red and the S&amp;P 500 in blue).</text></g><g font-family="Liberation Sans, Arial, Helvetica, sans-serif" font-size="11" fill="#2a2723" stroke="#2a2723" stroke-width="0.1"><text x="22.5" y="453" font-size="9.2" textLength="384" lengthAdjust="spacingAndGlyphs"><tspan font-style="italic">Source:</tspan> Chicago Center for Research in Security Prices, Standard and Poor’s, MSCI, and Global Financial Data.</text></g>
<text x="14.7" y="22.7" font-family="Liberation Sans, Arial, Helvetica, sans-serif" font-size="13.5" font-weight="bold" fill="#fff" textLength="93" lengthAdjust="spacing">FIGURE 10.1</text>
<text x="147.5" y="23.3" font-family="Liberation Sans, Arial, Helvetica, sans-serif" font-size="12" font-weight="bold" fill="#1a6584" textLength="303.5" lengthAdjust="spacingAndGlyphs">Value of &#36;100 Invested in 1925 in Stocks, Bonds, or Bills</text>
</svg>
</body></html>
